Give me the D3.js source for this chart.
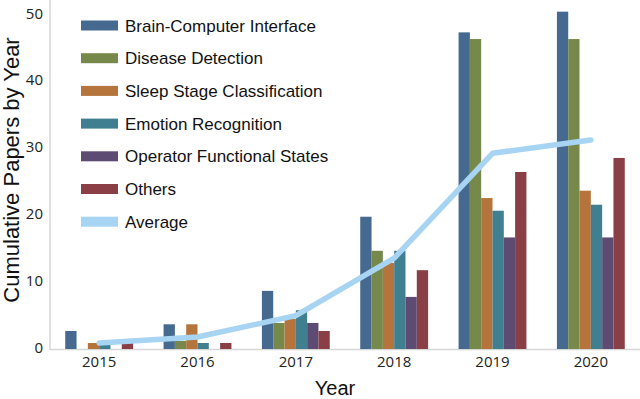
<!DOCTYPE html>
<html>
<head>
<meta charset="utf-8">
<script src="https://cdn.jsdelivr.net/npm/d3@7"></script>
<style>
  body { margin: 0; background: #fff; }
  svg { display: block; }
</style>
</head>
<body>
<div class="chart"></div>
<script>
// years on the x axis
const years = ["2015", "2016", "2017", "2018", "2019", "2020"]

// series names, in bar order
const seriesNames = ["Brain-Computer Interface", "Disease Detection", "Sleep Stage Classification",
    "Emotion Recognition", "Operator Functional States", "Others"]

// cumulative papers per year
const bci = [2.7, 3.7, 8.7, 19.8, 47.4, 50.5]
const disease = [0, 1.2, 3.9, 14.7, 46.4, 46.4]
const sleep = [0.9, 3.7, 4.5, 12.9, 22.6, 23.7]
const emotion = [0.6, 0.9, 5.8, 14.7, 20.7, 21.6]
const operator = [0, 0, 3.9, 7.8, 16.7, 16.7]
const others = [0.9, 0.9, 2.7, 11.8, 26.5, 28.6]
const average = [0.9, 1.8, 5.0, 13.6, 29.3, 31.3]

const yTicks = [0, 10, 20, 30, 40, 50]

const seriesValues = [bci, disease, sleep, emotion, operator, others]
const colors = ["#45698f", "#76894b", "#b5743c", "#3f7f8f", "#5e4b74", "#8a3e45"]
const avgColor = "#a7d4f2"

const width = 640, height = 399

const svg = d3.select(".chart").append("svg")
    .attr("width", width)
    .attr("height", height)

// outer band per year
const x0 = d3.scaleBand()
    .domain(years)
    .range([50, 640])
    .paddingInner(0.31)
    .paddingOuter(0.155)

// inner band per series
const x1 = d3.scaleBand()
    .domain(seriesNames)
    .range([0, x0.bandwidth()])

const y = d3.scaleLinear()
    .domain([0, 50])
    .range([349, 15])

const color = d3.scaleOrdinal()
    .domain(seriesNames)
    .range(colors)

// axis lines (light grey, no ticks)
svg.append("line")
    .attr("x1", 50).attr("x2", 50)
    .attr("y1", 0).attr("y2", y(0) + 1)
    .attr("stroke", "#d6d6d6")
    .attr("stroke-width", 1.5)

svg.append("line")
    .attr("x1", 50).attr("x2", 640)
    .attr("y1", y(0) + 0.5).attr("y2", y(0) + 0.5)
    .attr("stroke", "#d6d6d6")
    .attr("stroke-width", 1.5)

// y tick labels
const yAxis = d3.axisLeft(y)
    .tickValues(yTicks)
    .tickSize(0)
    .tickPadding(0)

svg.append("g")
    .attr("class", "y axis")
    .attr("transform", "translate(43,0)")
    .call(yAxis)
    .call(g => g.select(".domain").remove())
    .call(g => g.selectAll("text")
        .attr("dy", "0.2em")
        .style("font-family", "'Open Sans', sans-serif")
        .style("font-size", "15px")
        .attr("fill", "#222"))

// x tick labels
const xAxis = d3.axisBottom(x0)
    .tickSize(0)
    .tickPadding(0)

svg.append("g")
    .attr("class", "x axis")
    .attr("transform", "translate(0,356)")
    .call(xAxis)
    .call(g => g.select(".domain").remove())
    .call(g => g.selectAll("text")
        .attr("dy", "0.75em")
        .style("font-family", "'Open Sans', sans-serif")
        .style("font-size", "15px")
        .attr("fill", "#222"))

// grouped bars
const slice = svg.selectAll(".slice")
    .data(years)
    .enter().append("g")
    .attr("class", "slice")
    .attr("transform", d => "translate(" + x0(d) + ",0)")

slice.selectAll("rect")
    .data((d, i) => seriesNames.map((name, j) => ({name: name, value: seriesValues[j][i]})))
    .enter().append("rect")
        .attr("x", d => x1(d.name))
        .attr("width", x1.bandwidth())
        .attr("y", d => y(d.value))
        .attr("height", d => y(0) - y(d.value))
        .style("fill", d => color(d.name))

// average line over the group centres
const line = d3.line()
    .x((d, i) => x0(years[i]) + x0.bandwidth() / 2)
    .y(d => y(d))

svg.append("path")
    .datum(average)
    .attr("d", line)
    .attr("fill", "none")
    .attr("stroke", avgColor)
    .attr("stroke-width", 5.5)
    .attr("stroke-linejoin", "round")
    .attr("stroke-linecap", "round")

// legend
const legendNames = seriesNames.concat(["Average"])
const legendColors = colors.concat([avgColor])

const legend = svg.selectAll(".legend")
    .data(legendNames)
    .enter().append("g")
    .attr("class", "legend")
    .attr("transform", (d, i) => "translate(81," + (25.5 + i * 32.7) + ")")

legend.append("rect")
    .attr("x", 0)
    .attr("y", -5)
    .attr("width", 37)
    .attr("height", 10)
    .style("fill", (d, i) => legendColors[i])

legend.append("text")
    .attr("x", 44)
    .attr("y", 0)
    .attr("dy", "0.36em")
    .style("font-family", "'Liberation Sans', Arial, sans-serif")
    .style("font-size", "17px")
    .attr("fill", "#111")
    .text(d => d)

// axis titles
svg.append("text")
    .attr("transform", "translate(19,170) rotate(-90)")
    .style("text-anchor", "middle")
    .style("font-family", "'Liberation Sans', Arial, sans-serif")
    .style("font-size", "22px")
    .attr("fill", "#111")
    .text("Cumulative Papers by Year")

svg.append("text")
    .attr("x", 335)
    .attr("y", 395)
    .style("text-anchor", "middle")
    .style("font-family", "'Liberation Sans', Arial, sans-serif")
    .style("font-size", "20px")
    .attr("fill", "#111")
    .text("Year")
</script>
</body>
</html>
